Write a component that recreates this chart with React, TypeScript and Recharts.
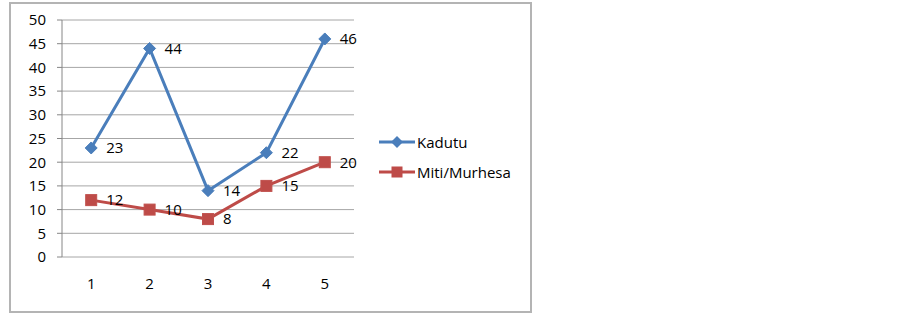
import { LineChart, Line, XAxis, YAxis, CartesianGrid, LabelList, Legend } from "recharts";

// values
const categories = [1, 2, 3, 4, 5];
const kadutu = [23, 44, 14, 22, 46];
const mitiMurhesa = [12, 10, 8, 15, 20];
const yTicks = [0, 5, 10, 15, 20, 25, 30, 35, 40, 45, 50];
const boundaryTicks = [0.5, 1.5, 2.5, 3.5, 4.5, 5.5];

const BLUE = "#4A7EBB";
const RED = "#BE4B48";
const FONT = "'Open Sans', sans-serif";
const FS = 15;

const data = categories.map((c, i) => ({
  x: c,
  Kadutu: kadutu[i],
  "Miti/Murhesa": mitiMurhesa[i],
}));

const Diamond = (props: any) => {
  const { cx, cy } = props;
  if (cx == null || cy == null) return null;
  const r = 6;
  return (
    <path
      d={`M${cx},${cy - r} L${cx + r},${cy} L${cx},${cy + r} L${cx - r},${cy} Z`}
      fill={BLUE}
      stroke={BLUE}
      strokeWidth={1}
    />
  );
};

const Square = (props: any) => {
  const { cx, cy } = props;
  if (cx == null || cy == null) return null;
  const s = 11;
  return (
    <rect x={cx - s / 2} y={cy - s / 2} width={s} height={s} fill={RED} stroke="#C0504D" strokeWidth={1} />
  );
};

const LegendContent = () => (
  <div style={{ fontFamily: FONT, fontSize: FS, color: "#000" }}>
    {[
      { name: "Kadutu", color: BLUE, shape: "diamond" },
      { name: "Miti/Murhesa", color: RED, shape: "square" },
    ].map((it) => (
      <div key={it.name} style={{ display: "flex", alignItems: "center", height: 30 }}>
        <svg width={37} height={14} style={{ marginRight: 1 }}>
          <line x1={0} y1={7} x2={36} y2={7} stroke={it.color} strokeWidth={3} />
          {it.shape === "diamond" ? (
            <path d="M18,1 L24,7 L18,13 L12,7 Z" fill={it.color} />
          ) : (
            <rect x={12.5} y={1.5} width={11} height={11} fill={it.color} />
          )}
        </svg>
        <span>{it.name}</span>
      </div>
    ))}
  </div>
);

export default function App() {
  return (
    <div style={{ position: "fixed", left: 0, top: 0, width: 903, height: 314, background: "#fff" }}>
      <div
        style={{
          position: "absolute",
          left: 9,
          top: 2,
          width: 523,
          height: 311,
          boxSizing: "border-box",
          border: "2px solid #b4b4b4",
        }}
      />
      <div style={{ position: "absolute", left: 0, top: 0 }}>
        <LineChart
          width={540}
          height={314}
          data={data}
          margin={{ top: 20, right: 186, bottom: 27, left: 10 }}
        >
          <CartesianGrid horizontal vertical={false} stroke="#a6a6a6" strokeWidth={1} />
          <XAxis
            dataKey="x"
            type="number"
            domain={[0.5, 5.5]}
            ticks={categories}
            tickLine={false}
            axisLine={false}
            tickSize={0}
            tickMargin={21}
            height={30}
            tick={{ fill: "#000", fontSize: FS, fontFamily: FONT }}
          />
          <XAxis
            xAxisId="b"
            dataKey="x"
            type="number"
            domain={[0.5, 5.5]}
            ticks={boundaryTicks}
            tick={false}
            tickLine={{ stroke: "#868686" }}
            axisLine={{ stroke: "#868686" }}
            tickSize={5}
            height={0}
          />
          <YAxis
            type="number"
            domain={[0, 50]}
            ticks={yTicks}
            interval={0}
            width={52}
            tickSize={5}
            tickMargin={11}
            tickLine={{ stroke: "#868686" }}
            axisLine={{ stroke: "#868686" }}
            tick={{ fill: "#000", fontSize: FS, fontFamily: FONT }}
          />
          <Legend
            layout="vertical"
            align="center"
            verticalAlign="middle"
            content={<LegendContent />}
            wrapperStyle={{ position: "absolute", left: 379, top: 127, width: 150 }}
          />
          <Line
            dataKey="Kadutu"
            stroke={BLUE}
            strokeWidth={3}
            dot={<Diamond />}
            activeDot={false}
            isAnimationActive={false}
          >
            <LabelList
              dataKey="Kadutu"
              position="right"
              offset={15}
              style={{ fill: "#000", fontSize: FS, fontFamily: FONT }}
            />
          </Line>
          <Line
            dataKey="Miti/Murhesa"
            stroke={RED}
            strokeWidth={3}
            dot={<Square />}
            activeDot={false}
            isAnimationActive={false}
          >
            <LabelList
              dataKey="Miti/Murhesa"
              position="right"
              offset={15}
              style={{ fill: "#000", fontSize: FS, fontFamily: FONT }}
            />
          </Line>
        </LineChart>
      </div>
    </div>
  );
}
